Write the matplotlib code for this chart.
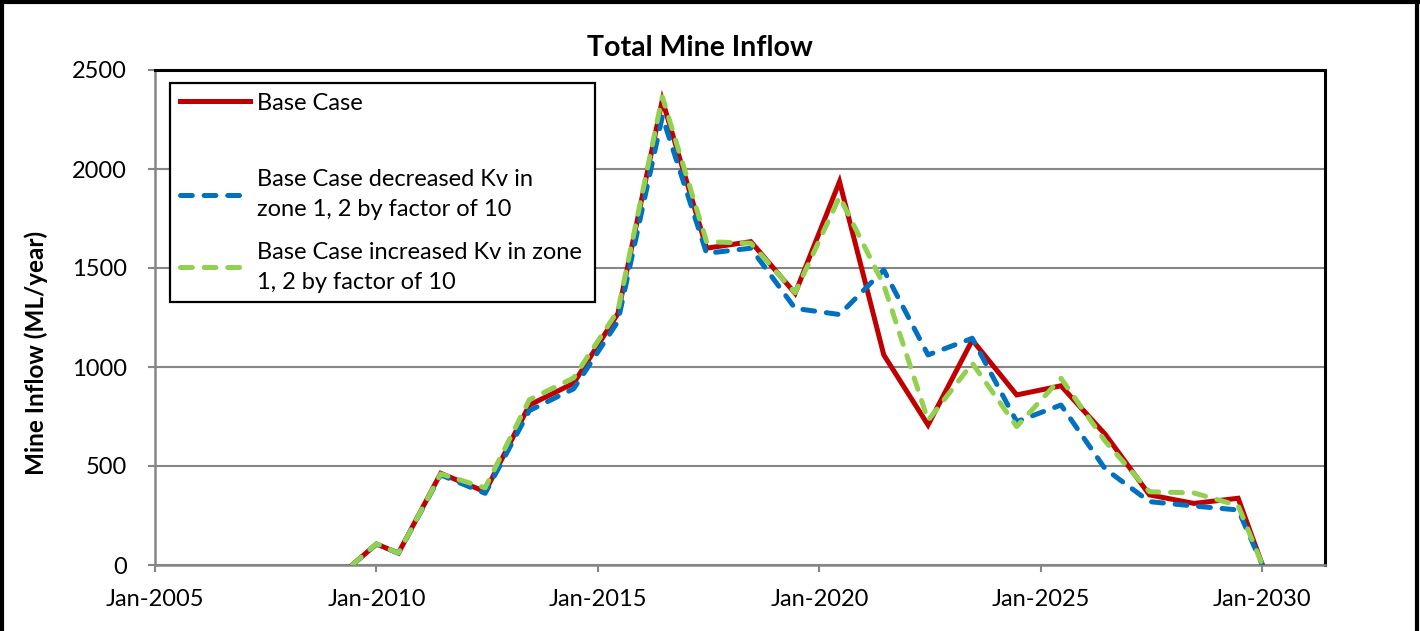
""" Total mine inflow chart """
import numpy as np
import pandas as pd
import matplotlib
matplotlib.use("Agg")
import matplotlib.pyplot as plt
import matplotlib.dates as mdates
from matplotlib.lines import Line2D
from matplotlib.patches import Rectangle

# Data (ML/year)
dates = ["2009-06-15", "2010-01-01", "2010-07-01", "2011-06-15", "2012-06-15",
         "2013-06-15", "2014-06-15", "2015-06-15", "2016-06-15", "2017-06-15",
         "2018-06-15", "2019-06-15", "2020-06-15", "2021-06-15", "2022-06-15",
         "2023-06-15", "2024-06-15", "2025-06-15", "2026-06-15", "2027-06-15",
         "2028-06-15", "2029-06-15", "2030-01-01"]
base_case = [0, 106, 60, 463, 370, 808, 918, 1270, 2348, 1600, 1633, 1372, 1936,
             1061, 707, 1136, 859, 905, 660, 354, 311, 337, 0]
kv_decreased = [0, 106, 60, 455, 362, 780, 890, 1230, 2265, 1574, 1600, 1296, 1265,
                1490, 1061, 1145, 724, 808, 485, 320, 298, 278, 0]
kv_increased = [0, 108, 60, 460, 390, 835, 945, 1285, 2365, 1633, 1625, 1375, 1860,
                1414, 730, 1019, 699, 943, 625, 370, 364, 300, 0]

labels = ["Base Case",
          "Base Case decreased Kv in\nzone 1, 2 by factor of 10",
          "Base Case increased Kv in zone\n1, 2 by factor of 10"]
colors = ["#C00000", "#0070C0", "#92D050"]

plt.rcParams['font.family'] = ['Lato', 'DejaVu Sans']
plt.rcParams['lines.scale_dashes'] = False

W, H = 1420, 631
fig = plt.figure(figsize=(W/100, H/100), dpi=100)
ax = fig.add_axes([155/W, 1-565/H, (1325-155)/W, (565-70)/H])

x = pd.to_datetime(dates)
lw = 3.6
l1, = ax.plot(x, base_case, color=colors[0], lw=lw, solid_joinstyle='miter', zorder=3)
l2, = ax.plot(x, kv_decreased, color=colors[1], lw=lw, dash_capstyle='round', zorder=4)
l2.set_dashes([8.5, 8.5])
l3, = ax.plot(x, kv_increased, color=colors[2], lw=lw, dash_capstyle='round', zorder=5)
l3.set_dashes([8.5, 8.5])

# Axes, limits, ticks
ax.set_xlim(pd.Timestamp("2005-01-01"), pd.Timestamp("2031-06-01"))
ax.set_ylim(0, 2500)
ax.set_yticks(np.arange(0, 2501, 500))
ax.xaxis.set_major_locator(mdates.YearLocator(5))
ax.xaxis.set_major_formatter(mdates.DateFormatter('%b-%Y'))
ax.tick_params(axis='both', colors='#868686', labelcolor='black', labelsize=17,
               length=5, width=1.5, direction='out')
ax.tick_params(axis='y', pad=15)
ax.tick_params(axis='x', pad=12)
ax.grid(axis='y', color='#868686', lw=1.5)
ax.set_axisbelow(True)
for s in ['left', 'bottom']:
    ax.spines[s].set_color('#868686')
    ax.spines[s].set_linewidth(1.8)
for s in ['top', 'right']:
    ax.spines[s].set_color('black')
    ax.spines[s].set_linewidth(2.2)

ax.set_ylabel("Mine Inflow (ML/year)", fontsize=17.5, fontweight='bold')
ax.yaxis.set_label_coords(48/W, 1-353/H, transform=fig.transFigure)
fig.text(700/W, 1-48/H, "Total Mine Inflow", fontsize=20.5, fontweight='bold',
         ha='center', va='center')

# Legend: frame plus two legends so the gap under "Base Case" matches
frame = Rectangle((170/W, 1-302/H), (595-170)/W, (302-83)/H, transform=fig.transFigure,
                  facecolor='white', edgecolor='black', lw=1.6, zorder=6)
ax.add_artist(frame)
kw = dict(frameon=False, fontsize=17, borderpad=0, borderaxespad=0, handlelength=2.95,
          handletextpad=0.3, loc='center left', bbox_transform=fig.transFigure)
leg1 = ax.legend([l1], labels[:1], bbox_to_anchor=(180/W, 1-103/H), **kw)
leg1.set_zorder(7)
ax.add_artist(leg1)
leg2 = ax.legend([l2, l3], labels[1:], bbox_to_anchor=(180/W, 1-231/H),
                 labelspacing=0.9, **kw)
for t in leg2.get_texts():
    t.set_linespacing(1.54)
leg2.set_zorder(7)

# Outer border of the chart area
for xs, ys in [([2, 2], [0, H]), ([0, W], [2, 2]), ([W-3, W-3], [0, H])]:
    fig.add_artist(Line2D(np.array(xs)/W, 1-np.array(ys)/H, color='black', lw=3))

fig.savefig("out.png", dpi=100)
